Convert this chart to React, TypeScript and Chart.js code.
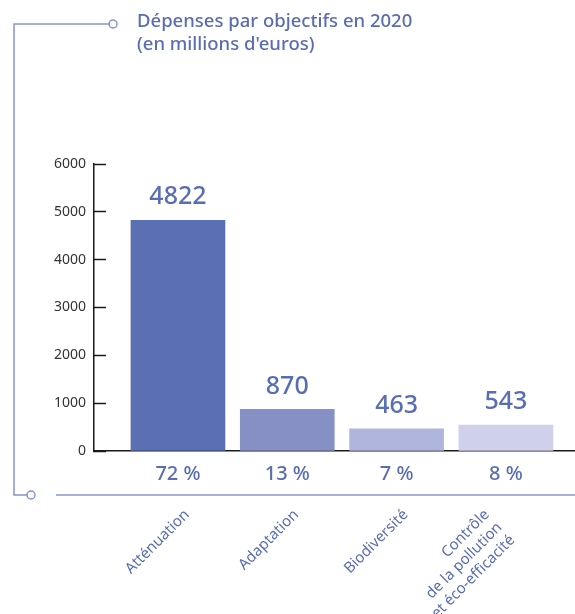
import React, { useEffect, useRef } from 'react';
import { Chart, registerables } from 'chart.js';

Chart.register(...registerables);

const categories: string[][] = [
  ['Atténuation'],
  ['Adaptation'],
  ['Biodiversité'],
  ['Contrôle', 'de la pollution', 'et éco-efficacité'],
];
const values = [4822, 870, 463, 543];
const percents = [72, 13, 7, 8];
const barColors = ['#5b6fb4', '#8690c4', '#afb5dc', '#cfd1ea'];
const yTicks = [0, 1000, 2000, 3000, 4000, 5000, 6000];
const titleLines = ['Dépenses par objectifs en 2020', "(en millions d'euros)"];

const BLUE = '#5a6db4';
const LINE = '#8494d3';
const FONT = "'Noto Sans', sans-serif";
// shift (in category units) per extra label line, so multi-line labels stay centred
const LINE_SHIFT = 0.128;

const decorPlugin = {
  id: 'decor',
  beforeDraw(chart: any) {
    const ctx = chart.ctx as CanvasRenderingContext2D;
    ctx.save();
    ctx.fillStyle = '#ffffff';
    ctx.fillRect(0, 0, chart.width, chart.height);
    ctx.strokeStyle = LINE;
    ctx.lineWidth = 1.5;
    ctx.beginPath();
    ctx.moveTo(109, 24);
    ctx.lineTo(14, 24);
    ctx.lineTo(14, 495);
    ctx.lineTo(27, 495);
    ctx.stroke();
    ctx.beginPath();
    ctx.moveTo(56, 495);
    ctx.lineTo(chart.width, 495);
    ctx.stroke();
    for (const [cx, cy] of [[113, 24], [31, 495]]) {
      ctx.beginPath();
      ctx.arc(cx, cy, 4, 0, Math.PI * 2);
      ctx.fillStyle = '#fff';
      ctx.fill();
      ctx.stroke();
    }
    ctx.fillStyle = BLUE;
    ctx.font = `500 18.5px ${FONT}`;
    ctx.textAlign = 'left';
    ctx.textBaseline = 'alphabetic';
    titleLines.forEach((t, i) => ctx.fillText(t, 137, 27 + i * 23));
    ctx.restore();
  },
  afterDatasetsDraw(chart: any) {
    const ctx = chart.ctx as CanvasRenderingContext2D;
    const meta = chart.getDatasetMeta(0);
    ctx.save();
    ctx.fillStyle = BLUE;
    ctx.textAlign = 'center';
    ctx.textBaseline = 'middle';
    meta.data.forEach((bar: any, i: number) => {
      ctx.font = `500 25px ${FONT}`;
      ctx.fillText(String(values[i]), bar.x, bar.y - 23);
      ctx.font = `500 20px ${FONT}`;
      ctx.fillText(`${percents[i]} %`, bar.x, chart.chartArea.bottom + 23);
    });
    ctx.restore();
  },
};

export default function App() {
  const ref = useRef<HTMLCanvasElement | null>(null);
  useEffect(() => {
    if (!ref.current) return;
    const chart = new Chart(ref.current, {
      type: 'bar',
      data: {
        datasets: [
          {
            data: values.map((v, i) => ({ x: i, y: v })),
            backgroundColor: barColors,
            borderWidth: 0,
            barThickness: 'flex',
            barPercentage: 0.86,
            categoryPercentage: 1,
          },
        ],
      },
      options: {
        responsive: false,
        animation: false,
        layout: { padding: { top: 164, left: 0, right: 0, bottom: 0 } },
        plugins: { legend: { display: false }, tooltip: { enabled: false }, title: { display: false } },
        scales: {
          x: {
            type: 'linear',
            min: -0.768,
            max: 3.632,
            offset: false,
            afterBuildTicks: (s: any) => {
              s.ticks = categories.map((lines, i) => ({ value: i - (lines.length - 1) * LINE_SHIFT }));
            },
            afterTickToLabelConversion: (s: any) => {
              s.ticks.forEach((t: any, i: number) => {
                t.label = categories[i];
              });
            },
            afterFit: (s: any) => {
              s.height = 163;
              s.paddingLeft = 0;
              s.paddingRight = 0;
            },
            grid: { display: false },
            border: { display: true, color: '#1a1a1a', width: 1.5 },
            ticks: {
              autoSkip: false,
              minRotation: 45,
              maxRotation: 45,
              padding: 47,
              labelOffset: 9,
              color: BLUE,
              font: { family: FONT, size: 15 },
            },
          },
          y: {
            min: 0,
            max: 6000,
            afterBuildTicks: (s: any) => {
              s.ticks = yTicks.map((v) => ({ value: v }));
            },
            afterFit: (s: any) => {
              s.width = 94;
            },
            grid: {
              display: true,
              drawOnChartArea: false,
              drawTicks: true,
              tickLength: -12,
              tickColor: '#1a1a1a',
              tickWidth: 1.5,
            },
            border: { display: true, color: '#1a1a1a', width: 1.5 },
            ticks: {
              padding: 20,
              color: '#333333',
              font: { family: FONT, size: 14 },
              callback: (v: any) => String(v),
            },
          },
        },
      },
      plugins: [decorPlugin],
    });
    return () => chart.destroy();
  }, []);
  return (
    <div style={{ position: 'absolute', left: 0, top: 0, width: 575, height: 614 }}>
      <canvas ref={ref} width={575} height={614} />
    </div>
  );
}
